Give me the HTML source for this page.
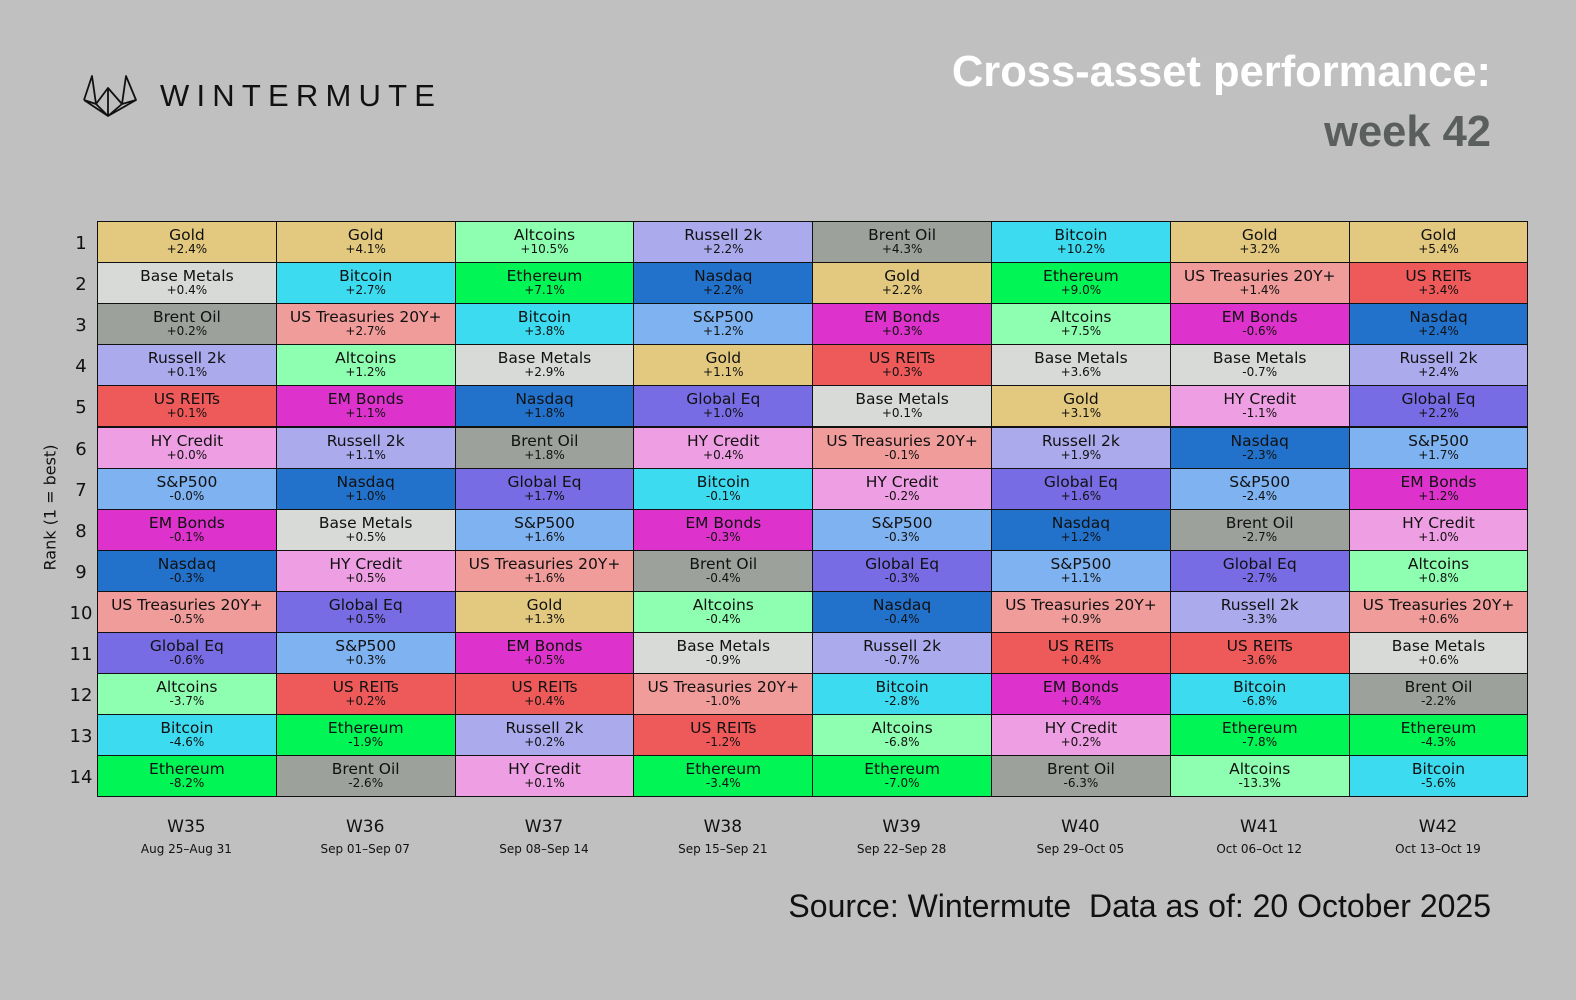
<!DOCTYPE html>
<html><head><meta charset="utf-8"><style>
body{margin:0;width:1576px;height:1000px;background:#bfc0bf;position:relative;overflow:hidden;font-family:"DejaVu Sans","Liberation Sans",sans-serif;}
.abs{position:absolute;}
.title{font-family:"Liberation Sans",sans-serif;font-weight:bold;right:85px;text-align:right;white-space:nowrap;}
.cell{position:absolute;box-sizing:border-box;border:1px solid #111;text-align:center;color:#111;}
.cell .n{font-size:15.5px;line-height:16px;margin-top:5px;}
.cell .v{font-size:12px;line-height:13px;}
.rank{position:absolute;width:30px;text-align:center;font-size:18px;color:#111;}
.wk{position:absolute;text-align:center;color:#111;}
</style></head><body>
<svg class="abs" style="left:82px;top:74px" width="56" height="44" viewBox="0 0 56 44">
<g fill="none" stroke="#111" stroke-width="1.8" stroke-linejoin="round">
<path d="M2 26 L10 2 L14 30 L26 42 L40 30 L44 2 L54 26 L40 30 M2 26 L14 30 M26 42 L2 26 M26 42 L54 26 M14 30 L26 14 L40 30 M26 14 L26 42"/>
</g></svg>
<div class="abs" style="left:160px;top:78px;font-family:'Liberation Sans',sans-serif;font-size:31px;letter-spacing:7.2px;color:#111;white-space:nowrap;">WINTERMUTE</div>
<div class="abs title" style="top:48px;font-size:43.5px;color:#fff;">Cross-asset performance:</div>
<div class="abs title" style="top:108px;font-size:43.5px;color:#5a5e5c;">week 42</div>
<div class="abs" style="left:-50px;top:498px;width:200px;font-size:16px;color:#111;transform:rotate(-90deg);text-align:center;white-space:nowrap;">Rank (1 = best)</div>
<div id="grid"></div>
<div class="abs" style="right:85px;top:888px;font-family:'Liberation Sans',sans-serif;font-size:32px;color:#111;white-space:nowrap;">Source: Wintermute&nbsp; Data as of: 20 October 2025</div>
<script>
const weeks=["W35","W36","W37","W38","W39","W40","W41","W42"];
const dates=["Aug 25–Aug 31","Sep 01–Sep 07","Sep 08–Sep 14","Sep 15–Sep 21","Sep 22–Sep 28","Sep 29–Oct 05","Oct 06–Oct 12","Oct 13–Oct 19"];
const w35n=["Gold","Base Metals","Brent Oil","Russell 2k","US REITs","HY Credit","S&P500","EM Bonds","Nasdaq","US Treasuries 20Y+","Global Eq","Altcoins","Bitcoin","Ethereum"];
const w35v=["+2.4%","+0.4%","+0.2%","+0.1%","+0.1%","+0.0%","-0.0%","-0.1%","-0.3%","-0.5%","-0.6%","-3.7%","-4.6%","-8.2%"];
const w36n=["Gold","Bitcoin","US Treasuries 20Y+","Altcoins","EM Bonds","Russell 2k","Nasdaq","Base Metals","HY Credit","Global Eq","S&P500","US REITs","Ethereum","Brent Oil"];
const w36v=["+4.1%","+2.7%","+2.7%","+1.2%","+1.1%","+1.1%","+1.0%","+0.5%","+0.5%","+0.5%","+0.3%","+0.2%","-1.9%","-2.6%"];
const w37n=["Altcoins","Ethereum","Bitcoin","Base Metals","Nasdaq","Brent Oil","Global Eq","S&P500","US Treasuries 20Y+","Gold","EM Bonds","US REITs","Russell 2k","HY Credit"];
const w37v=["+10.5%","+7.1%","+3.8%","+2.9%","+1.8%","+1.8%","+1.7%","+1.6%","+1.6%","+1.3%","+0.5%","+0.4%","+0.2%","+0.1%"];
const w38n=["Russell 2k","Nasdaq","S&P500","Gold","Global Eq","HY Credit","Bitcoin","EM Bonds","Brent Oil","Altcoins","Base Metals","US Treasuries 20Y+","US REITs","Ethereum"];
const w38v=["+2.2%","+2.2%","+1.2%","+1.1%","+1.0%","+0.4%","-0.1%","-0.3%","-0.4%","-0.4%","-0.9%","-1.0%","-1.2%","-3.4%"];
const w39n=["Brent Oil","Gold","EM Bonds","US REITs","Base Metals","US Treasuries 20Y+","HY Credit","S&P500","Global Eq","Nasdaq","Russell 2k","Bitcoin","Altcoins","Ethereum"];
const w39v=["+4.3%","+2.2%","+0.3%","+0.3%","+0.1%","-0.1%","-0.2%","-0.3%","-0.3%","-0.4%","-0.7%","-2.8%","-6.8%","-7.0%"];
const w40n=["Bitcoin","Ethereum","Altcoins","Base Metals","Gold","Russell 2k","Global Eq","Nasdaq","S&P500","US Treasuries 20Y+","US REITs","EM Bonds","HY Credit","Brent Oil"];
const w40v=["+10.2%","+9.0%","+7.5%","+3.6%","+3.1%","+1.9%","+1.6%","+1.2%","+1.1%","+0.9%","+0.4%","+0.4%","+0.2%","-6.3%"];
const w41n=["Gold","US Treasuries 20Y+","EM Bonds","Base Metals","HY Credit","Nasdaq","S&P500","Brent Oil","Global Eq","Russell 2k","US REITs","Bitcoin","Ethereum","Altcoins"];
const w41v=["+3.2%","+1.4%","-0.6%","-0.7%","-1.1%","-2.3%","-2.4%","-2.7%","-2.7%","-3.3%","-3.6%","-6.8%","-7.8%","-13.3%"];
const w42n=["Gold","US REITs","Nasdaq","Russell 2k","Global Eq","S&P500","EM Bonds","HY Credit","Altcoins","US Treasuries 20Y+","Base Metals","Brent Oil","Ethereum","Bitcoin"];
const w42v=["+5.4%","+3.4%","+2.4%","+2.4%","+2.2%","+1.7%","+1.2%","+1.0%","+0.8%","+0.6%","+0.6%","-2.2%","-4.3%","-5.6%"];
const names=[w35n,w36n,w37n,w38n,w39n,w40n,w41n,w42n];
const vals=[w35v,w36v,w37v,w38v,w39v,w40v,w41v,w42v];
const colors={"Gold":"#e3c97f","Base Metals":"#d8dad7","Brent Oil":"#9ca19c","Russell 2k":"#aaaaec","US REITs":"#ee5a5a","HY Credit":"#ee9ee2","S&P500":"#7fb2f0","EM Bonds":"#dd33cc","Nasdaq":"#2272cc","US Treasuries 20Y+":"#ef9c9a","Global Eq":"#776ce3","Altcoins":"#8effb0","Bitcoin":"#3ddbf0","Ethereum":"#00f555"};
const X0=97,Y0=221,CW=178.8,RH=41.1;
const g=document.getElementById('grid');
const fs=s=>s.replace(/[^a-z0-9]+/gi,'-').toLowerCase();
for(let c=0;c<weeks.length;c++){
  for(let r=0;r<names[c].length;r++){
    const d=document.createElement('div');
    d.className='cell';
    
    
    d.style.left=(X0+c*CW)+'px';d.style.top=(Y0+r*RH)+'px';
    d.style.width=(CW+1)+'px';d.style.height=(RH+1)+'px';
    d.style.background=colors[names[c][r]];
    d.innerHTML='<div class="n">'+names[c][r].replace('&','&amp;')+'</div><div class="v">'+vals[c][r]+'</div>';
    g.appendChild(d);
  }
  const w=document.createElement('div');
  w.className='wk';
  
  
  w.style.left=(X0+c*CW)+'px';w.style.top='817px';w.style.width=CW+'px';
  w.innerHTML='<div style="font-size:17px">'+weeks[c]+'</div><div style="font-size:12px;margin-top:5px">'+dates[c]+'</div>';
  g.appendChild(w);
}
for(let r=0;r<14;r++){
  const k=document.createElement('div');
  k.className='rank';
  
  
  k.style.left='66px';k.style.top=(Y0+r*RH+12)+'px';
  k.textContent=r+1;
  g.appendChild(k);
}
</script>
</body></html>
